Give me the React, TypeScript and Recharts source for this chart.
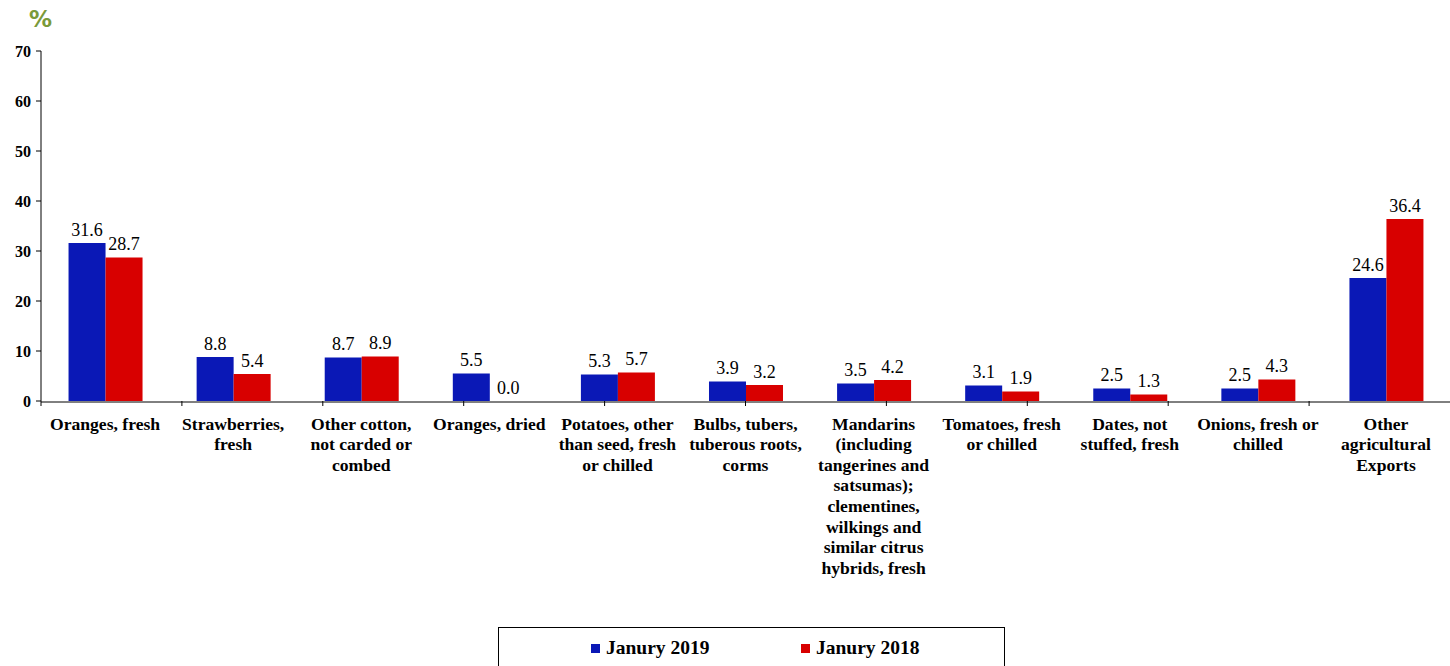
import React from 'react';
import { BarChart, Bar, XAxis, YAxis, Legend, Rectangle } from 'recharts';

const categories: string[][] = [
  ['Oranges, fresh'],
  ['Strawberries,', 'fresh'],
  ['Other cotton,', 'not carded or', 'combed'],
  ['Oranges, dried'],
  ['Potatoes, other', 'than seed, fresh', 'or chilled'],
  ['Bulbs, tubers,', 'tuberous roots,', 'corms'],
  ['Mandarins', '(including', 'tangerines and', 'satsumas);', 'clementines,', 'wilkings and', 'similar citrus', 'hybrids, fresh'],
  ['Tomatoes, fresh', 'or chilled'],
  ['Dates, not', 'stuffed, fresh'],
  ['Onions, fresh or', 'chilled'],
  ['Other', 'agricultural', 'Exports'],
];
const jan2019: number[] = [31.6, 8.8, 8.7, 5.5, 5.3, 3.9, 3.5, 3.1, 2.5, 2.5, 24.6];
const jan2018: number[] = [28.7, 5.4, 8.9, 0.0, 5.7, 3.2, 4.2, 1.9, 1.3, 4.3, 36.4];
const yTicks: number[] = [0, 10, 20, 30, 40, 50, 60, 70];
const seriesNames = ['Janury 2019', 'Janury 2018'];

const data = categories.map((c, i) => ({ name: c.join(' '), idx: i, a: jan2019[i], b: jan2018[i] }));
const boundaryTicks = categories.map((_, i) => i).concat([categories.length]);

const FONT = 'Liberation Serif, Times New Roman, DejaVu Serif, serif';
const BLUE = '#0A18B6';
const RED = '#D80000';

const CatTick = (props: any) => {
  const { x, y, payload } = props;
  const lines = categories[payload.index] || [];
  return (
    <g>
      {lines.map((l, i) => (
        <text key={i} x={x} y={y + 19.5} dy={i * 20.6} textAnchor="middle" fontFamily={FONT} fontWeight="bold" fontSize={17.6} fill="#000">
          {l}
        </text>
      ))}
    </g>
  );
};

const makeShape = (key: 'a' | 'b') => (props: any) => {
  const { x, y, width, height, fill, payload } = props;
  const v = payload ? payload[key] : props.value;
  return (
    <g>
      {height > 0 && <Rectangle x={x} y={y} width={width} height={height} fill={fill} />}
      <text x={x + width / 2} y={y - 7.5} textAnchor="middle" fontFamily={FONT} fontSize={18} fill="#000">
        {Number(v).toFixed(1)}
      </text>
    </g>
  );
};

const LegendContent = () => (
  <div style={{ width: 507, height: 50, border: '1px solid #000', boxSizing: 'border-box', background: '#fff', position: 'relative', fontFamily: FONT, fontWeight: 'bold', fontSize: 19.5 }}>
    <div style={{ position: 'absolute', left: 92, top: 9, display: 'flex', alignItems: 'center' }}>
      <span style={{ width: 9, height: 9, background: BLUE, display: 'inline-block', marginRight: 6 }} />
      <span>{seriesNames[0]}</span>
    </div>
    <div style={{ position: 'absolute', left: 302, top: 9, display: 'flex', alignItems: 'center' }}>
      <span style={{ width: 9, height: 9, background: RED, display: 'inline-block', marginRight: 6 }} />
      <span>{seriesNames[1]}</span>
    </div>
  </div>
);

export default function App() {
  return (
    <div style={{ position: 'absolute', left: 0, top: 0, width: 1450, height: 666, background: '#fff', overflow: 'hidden' }}>
      <div style={{ position: 'absolute', left: 29, top: 6, color: '#7A9A3A', fontFamily: 'DejaVu Sans, sans-serif', fontWeight: 'bold', fontSize: 23 }}>%</div>
      <BarChart width={1450} height={666} data={data} margin={{ top: 51, right: 0, left: 0, bottom: 0 }} barCategoryGap="21.5%" barGap={0}>
        <XAxis xAxisId="bounds" type="number" domain={[0, categories.length]} ticks={boundaryTicks} allowDataOverflow axisLine={false} tickLine={{ stroke: '#000' }} tickSize={5} tick={() => <g />} height={1} />
        <XAxis xAxisId="cat" dataKey="name" interval={0} axisLine={{ stroke: '#000' }} tickLine={false} tick={<CatTick />} height={214} />
        <YAxis domain={[0, 70]} ticks={yTicks} width={41} axisLine={{ stroke: '#000' }} tickLine={{ stroke: '#000' }} tickSize={5} tickMargin={5}
          tick={{ fontFamily: FONT, fontWeight: 'bold', fontSize: 16, fill: '#000' }} />
        <Legend verticalAlign="bottom" content={<LegendContent />} wrapperStyle={{ position: 'absolute', left: 498, top: 627, width: 507, height: 50 }} />
        <Bar xAxisId="cat" dataKey="a" fill={BLUE} isAnimationActive={false} shape={makeShape('a')} />
        <Bar xAxisId="cat" dataKey="b" fill={RED} isAnimationActive={false} shape={makeShape('b')} />
      </BarChart>
    </div>
  );
}
